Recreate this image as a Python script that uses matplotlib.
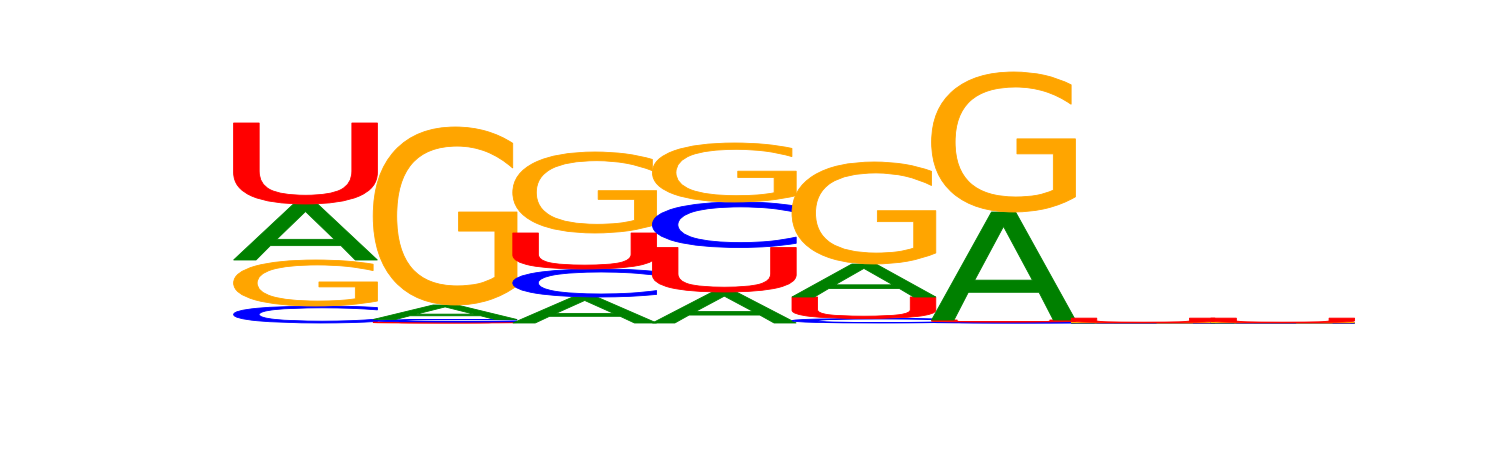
import matplotlib
matplotlib.use("Agg")
import matplotlib.pyplot as plt
from matplotlib.textpath import TextPath
from matplotlib.patches import PathPatch
from matplotlib.font_manager import FontProperties
from matplotlib.transforms import Affine2D

# information content (bits) per letter, positions 1..8
positions = [1, 2, 3, 4, 5, 6, 7, 8]
A = [0.448, 0.116, 0.208, 0.248, 0.264, 0.864, 0.001, 0.001]
C = [0.136, 0.020, 0.224, 0.364, 0.036, 0.008, 0.001, 0.001]
G = [0.368, 1.424, 0.648, 0.472, 0.816, 1.120, 0.001, 0.001]
U = [0.648, 0.008, 0.288, 0.356, 0.172, 0.016, 0.036, 0.036]

colors = {"A": "#008000", "C": "#0000ff", "G": "#ffa500", "U": "#ff0000"}
fp = FontProperties(family="DejaVu Sans")
glyphs = {k: TextPath((0, 0), k, size=1, prop=fp) for k in "ACGU"}


def draw_letter(ax, letter, x, y, w, h):
    tp = glyphs[letter]
    bb = tp.get_extents()
    t = (Affine2D().translate(-bb.x0, -bb.y0)
         .scale(w / bb.width, h / bb.height)
         .translate(x - w / 2, y))
    p = PathPatch(t.transform_path(tp), facecolor=colors[letter],
                  edgecolor=colors[letter], linewidth=0.6)
    ax.add_patch(p)


fig = plt.figure(figsize=(15, 4.5), dpi=100)
ax = fig.add_axes([0, 0, 1, 1])
ax.axis("off")

width = 1.03
for i, pos in enumerate(positions):
    col = [("A", A[i]), ("C", C[i]), ("G", G[i]), ("U", U[i])]
    col.sort(key=lambda t: t[1])
    y = 0
    for letter, h in col:
        draw_letter(ax, letter, pos, y, width, h)
        y += h

ax.set_xlim(1 - 305.5 / 139.6, 1 + 1194.5 / 139.6)
ax.set_ylim(-127 / 125, 323 / 125)
fig.savefig("out.png", dpi=100)
